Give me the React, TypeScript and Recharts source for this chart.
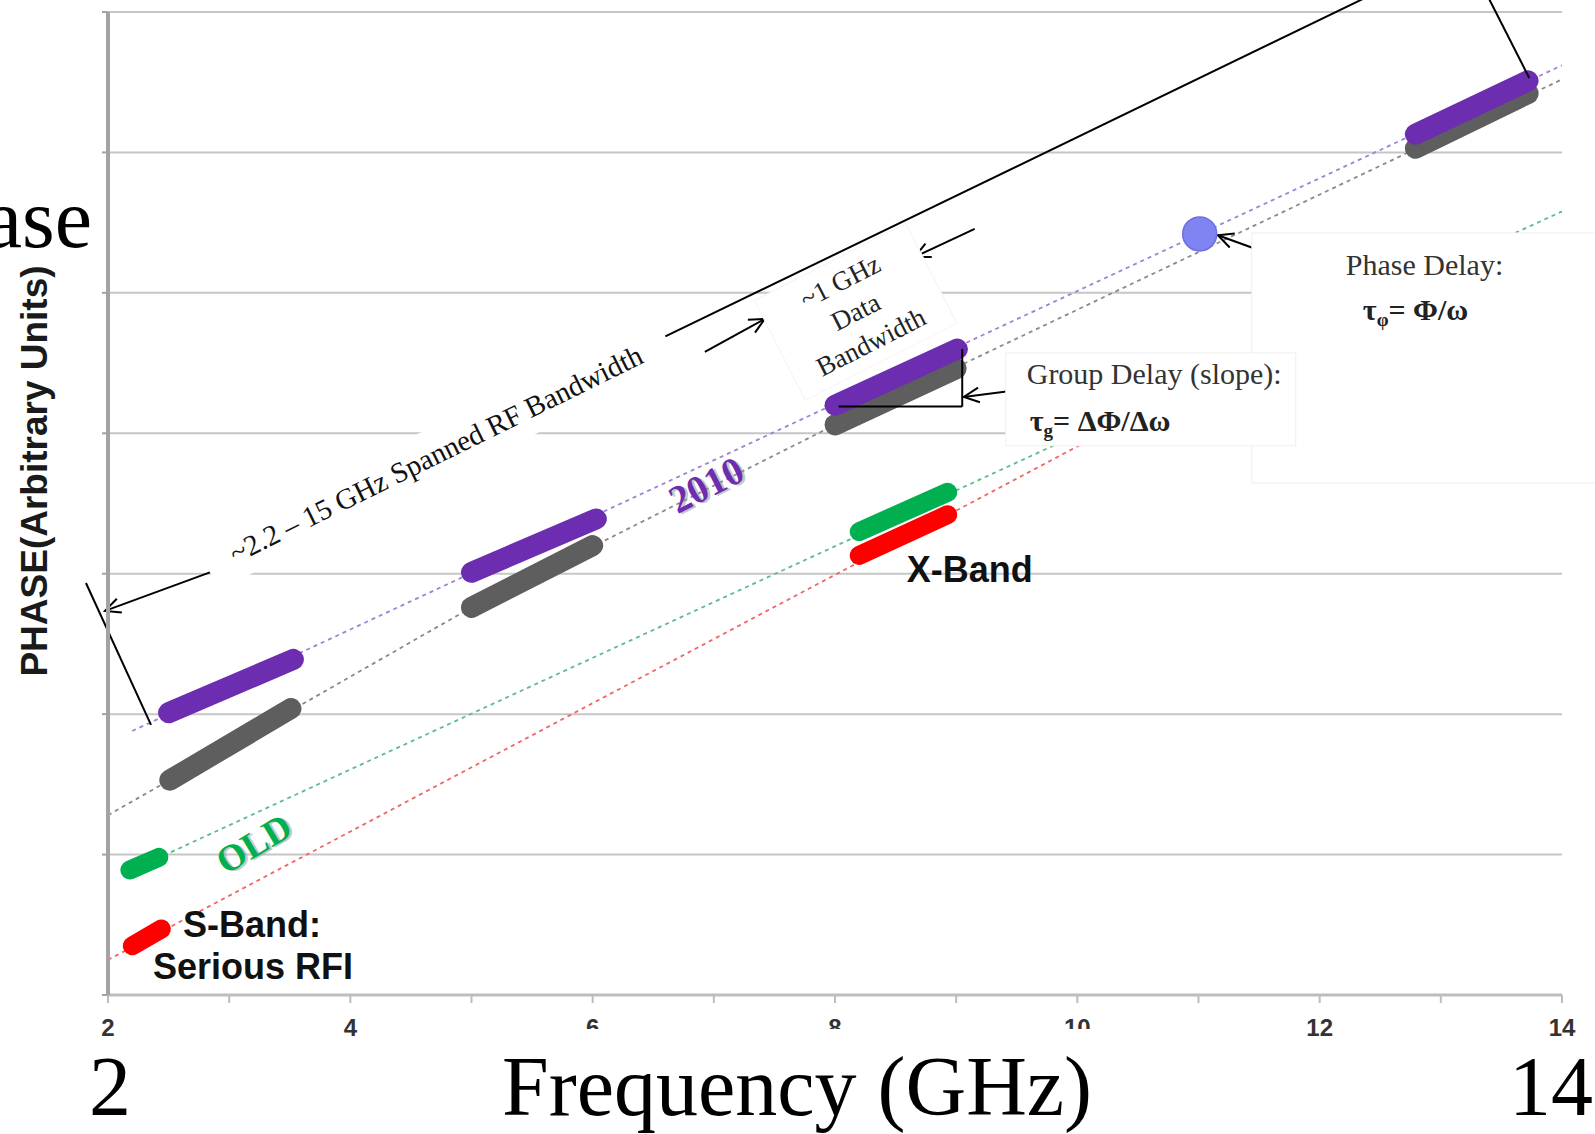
import React from "react";
import {
  CartesianGrid,
  ComposedChart,
  Line,
  ReferenceDot,
  ReferenceLine,
  XAxis,
  YAxis
} from "recharts";

// Phase vs frequency sketch: band segments sitting on dotted phase "trend" lines,
// with the slide's annotations (bandwidth brackets, group / phase delay notes).

const W = 1595;
const H = 1134;
const MARGIN = { top: 12, right: 33, left: 48, bottom: 109 };

const SERIF = "'Liberation Serif', 'Times New Roman', serif";
const SANS = "'Liberation Sans', Arial, sans-serif";

// axes
const X_TICKS = [2, 3, 4, 5, 6, 7, 8, 9, 10, 11, 12, 13, 14];
const X_LABELED = [2, 4, 6, 8, 10, 12, 14];
const X_HIDDEN_UNDER_TITLE = [6, 8, 10];
const Y_TICKS = [0, 1, 2, 3, 4, 5, 6, 7];

// band segments: [start GHz, end GHz] and [start phase, end phase]
const PURPLE_F = [[2.5, 3.53], [5.0, 6.03], [8.0, 9.01], [12.79, 13.72]];
const PURPLE_P = [[2.01, 2.39], [3.01, 3.39], [4.2, 4.6], [6.13, 6.51]];
const GRAY_F = [[2.51, 3.51], [5.0, 6.0], [8.0, 9.0], [12.79, 13.72]];
const GRAY_P = [[1.53, 2.04], [2.76, 3.2], [4.06, 4.46], [6.03, 6.42]];
const GREEN_F = [[2.18, 2.42], [8.2, 8.93]];
const GREEN_P = [[0.89, 0.98], [3.3, 3.58]];
const RED_F = [[2.2, 2.44], [8.2, 8.93]];
const RED_P = [[0.35, 0.47], [3.13, 3.42]];

// dotted trend lines
const PURPLE_TREND_F = [2.2, 14.0];
const PURPLE_TREND_P = [1.88, 6.62];
const GRAY_TREND_F = [2.0, 5.0, 8.0, 11.0, 14.0];
const GRAY_TREND_P = [1.28, 2.76, 4.06, 5.29, 6.52];
const GREEN_TREND_F = [2.4, 14.0];
const GREEN_TREND_P = [0.97, 5.58];
const RED_TREND_F = [2.0, 12.0];
const RED_TREND_P = [0.25, 4.82];

// phase delay marker
const PHASE_POINT_F = 11.01;
const PHASE_POINT_P = 5.42;

const COLORS = {
  purple: "#6c2db0",
  gray: "#5e5e5e",
  green: "#00b050",
  red: "#ff0000",
  purpleDot: "#9c84d4",
  grayDot: "#8a8a8a",
  greenDot: "#5dbb8e",
  redDot: "#ee6666"
};

type Pt = { x: number; y: number };
const toPts = (f: number[], p: number[]): Pt[] => f.map((x, i) => ({ x, y: p[i] }));

// annotation strokes, in chart units [f1, p1, f2, p2, arrow at end]
const NOTE_LINES: [number, number, number, number, boolean][] = [
  [6.6, 4.69, 12.35, 7.09, false],
  [13.4, 7.09, 13.73, 6.53, false],
  [2.875, 3.02, 1.975, 2.735, true],
  [1.818, 2.934, 2.355, 1.923, false],
  [7.404, 4.972, 7.825, 4.373, false],
  [8.617, 5.278, 8.873, 4.808, false],
  [6.926, 4.58, 7.421, 4.815, true],
  [9.153, 5.456, 8.658, 5.256, true],
  [8.03, 4.19, 9.05, 4.19, false],
  [9.05, 4.19, 9.05, 4.6, false],
  [9.583, 4.316, 9.063, 4.259, true],
  [12.15, 5.1, 11.16, 5.41, true]
];

const PlainShape = (p: any) => (
  <line x1={p.x1} y1={p.y1} x2={p.x2} y2={p.y2} stroke="#000" strokeWidth={2} />
);

const ArrowShape = (p: any) => {
  const { x1, y1, x2, y2 } = p;
  const a = Math.atan2(y2 - y1, x2 - x1);
  const L = 17;
  const s = 0.45;
  const ax = x2 - L * Math.cos(a - s);
  const ay = y2 - L * Math.sin(a - s);
  const bx = x2 - L * Math.cos(a + s);
  const by = y2 - L * Math.sin(a + s);
  return (
    <g>
      <line x1={x1} y1={y1} x2={x2} y2={y2} stroke="#000" strokeWidth={2} />
      <polyline points={`${ax},${ay} ${x2},${y2} ${bx},${by}`} fill="none" stroke="#000" strokeWidth={2} />
    </g>
  );
};

// x tick labels; 6, 8 and 10 are half covered by the big slide title, as in the slide
const FreqTick = (p: any) => {
  const v = p.payload?.value;
  if (!X_LABELED.includes(v)) return <g />;
  return (
    <g>
      <text x={p.x} y={p.y + 17} textAnchor="middle" fontFamily={SANS} fontWeight="bold" fontSize={24} fill="#333">
        {String(v)}
      </text>
      {X_HIDDEN_UNDER_TITLE.includes(v) && <rect x={p.x - 25} y={p.y + 10} width={50} height={20} fill="#fff" />}
    </g>
  );
};

const BottomTitles = (props: any) => {
  const vb = props.viewBox || { x: 108, y: 995, width: 1454 };
  return (
    <g>
      <text x={vb.x + 2} y={vb.y + 120} textAnchor="middle" fontFamily={SERIF} fontSize={84} fill="#000">2</text>
      <text x={vb.x + 689} y={vb.y + 120} textAnchor="middle" fontFamily={SERIF} fontSize={84} fill="#000">
        Frequency (GHz)
      </text>
      <text x={W - 2} y={vb.y + 120} textAnchor="end" fontFamily={SERIF} fontSize={84} fill="#000">14</text>
    </g>
  );
};

const LeftTitles = (props: any) => {
  const vb = props.viewBox || { x: 48, y: 12, width: 60 };
  const ax = vb.x + vb.width;
  const lx = ax - 74;
  const ly = vb.y + 459;
  return (
    <g>
      <text x={ax - 16} y={vb.y + 235} textAnchor="end" fontFamily={SERIF} fontSize={84} fill="#000">Phase</text>
      <text
        x={lx}
        y={ly}
        transform={`rotate(-90, ${lx}, ${ly})`}
        textAnchor="middle"
        dominantBaseline="central"
        fontFamily={SANS}
        fontWeight="bold"
        fontSize={37}
        fill="#1a1a1a"
      >
        PHASE(Arbitrary Units)
      </text>
    </g>
  );
};

const SpanNote = (p: any) => (
  <g transform={`rotate(-26.2, ${p.cx}, ${p.cy})`}>
    <rect x={p.cx - 255} y={p.cy - 26} width={510} height={52} fill="#fff" />
    <text x={p.cx} y={p.cy} textAnchor="middle" dominantBaseline="central" fontFamily={SERIF} fontSize={29} fill="#111">
      ~2.2 – 15 GHz Spanned RF Bandwidth
    </text>
  </g>
);

const DataBwNote = (p: any) => (
  <g transform={`rotate(-27, ${p.cx}, ${p.cy})`}>
    <rect x={p.cx - 85} y={p.cy - 56} width={170} height={112} fill="#fff" stroke="#f4f4f4" />
    <g fontFamily={SERIF} fontSize={27} fill="#222" textAnchor="middle">
      <text x={p.cx} y={p.cy - 34 + 9}>~1 GHz</text>
      <text x={p.cx} y={p.cy + 9}>Data</text>
      <text x={p.cx} y={p.cy + 34 + 9}>Bandwidth</text>
    </g>
  </g>
);

const ShadowWord = (text: string, color: string, size: number, angle: number) => (p: any) => (
  <g transform={`rotate(${angle}, ${p.cx}, ${p.cy})`} fontFamily={SERIF} fontWeight="bold" fontSize={size} textAnchor="middle">
    <text x={p.cx + 2} y={p.cy + 14} fill="#9a9a9a" opacity={0.55}>{text}</text>
    <text x={p.cx} y={p.cy + 12} fill={color}>{text}</text>
  </g>
);

const SBandNote = (p: any) => (
  <g fontFamily={SANS} fontWeight="bold" fontSize={36} fill="#111">
    <text x={p.cx} y={p.cy}>S-Band:</text>
    <text x={p.cx - 30} y={p.cy + 42}>Serious RFI</text>
  </g>
);

const XBandNote = (p: any) => (
  <text x={p.cx} y={p.cy} fontFamily={SANS} fontWeight="bold" fontSize={36} fill="#111">X-Band</text>
);

const GroupDelayNote = (p: any) => (
  <g>
    <rect x={p.cx} y={p.cy} width={290} height={93} fill="#fff" stroke="#f0f0f0" />
    <text x={p.cx + 21} y={p.cy + 31} fontFamily={SERIF} fontSize={30} fill="#333">Group Delay (slope):</text>
    <text x={p.cx + 24} y={p.cy + 78} fontFamily={SERIF} fontWeight="bold" fontSize={30} fill="#222">
      τ<tspan fontSize={19} dy={6}>g</tspan>
      <tspan dy={-6}>= ΔΦ/Δω</tspan>
    </text>
  </g>
);

const PhaseDelayNote = (p: any) => (
  <g>
    <rect x={p.cx} y={p.cy} width={380} height={250} fill="#fff" stroke="#eeeeee" />
    <text x={p.cx + 94} y={p.cy + 42} fontFamily={SERIF} fontSize={30} fill="#333">Phase Delay:</text>
    <text x={p.cx + 111} y={p.cy + 87} fontFamily={SERIF} fontWeight="bold" fontSize={30} fill="#222">
      τ<tspan fontSize={19} dy={6}>φ</tspan>
      <tspan dy={-6}>= Φ/ω</tspan>
    </text>
  </g>
);

function bandLines(fs: number[][], ps: number[][], color: string, width: number, key: string) {
  return fs.map((f, i) => (
    <Line
      key={`${key}-${i}`}
      data={toPts(f, ps[i])}
      dataKey="y"
      type="linear"
      stroke={color}
      strokeWidth={width}
      strokeLinecap="round"
      dot={false}
      activeDot={false}
      isAnimationActive={false}
    />
  ));
}

function trendLine(f: number[], p: number[], color: string, key: string) {
  return (
    <Line
      key={key}
      data={toPts(f, p)}
      dataKey="y"
      type="linear"
      stroke={color}
      strokeWidth={1.8}
      strokeDasharray="4 4"
      dot={false}
      activeDot={false}
      isAnimationActive={false}
    />
  );
}

export default function App() {
  return (
    <div style={{ position: "absolute", left: 0, top: 0, width: W, height: H, background: "#fff", overflow: "hidden" }}>
      <ComposedChart width={W} height={H} margin={MARGIN}>
        <CartesianGrid vertical={false} stroke="#c6c6c6" strokeWidth={2} />
        <XAxis
          type="number"
          dataKey="x"
          domain={[2, 14]}
          ticks={X_TICKS}
          allowDataOverflow
          tick={FreqTick}
          tickSize={8}
          tickMargin={16}
          stroke="#bdbdbd"
          strokeWidth={3}
          tickLine={{ stroke: "#bdbdbd", strokeWidth: 2 }}
          height={30}
          label={{ content: BottomTitles }}
        />
        <YAxis
          type="number"
          domain={[0, 7]}
          ticks={Y_TICKS}
          allowDataOverflow
          width={60}
          tickFormatter={() => ""}
          tickSize={6}
          stroke="#a3a3a3"
          strokeWidth={4}
          tickLine={{ stroke: "#a3a3a3", strokeWidth: 2 }}
          label={{ content: LeftTitles }}
        />

        {trendLine(PURPLE_TREND_F, PURPLE_TREND_P, COLORS.purpleDot, "t-purple")}
        {trendLine(GRAY_TREND_F, GRAY_TREND_P, COLORS.grayDot, "t-gray")}
        {trendLine(GREEN_TREND_F, GREEN_TREND_P, COLORS.greenDot, "t-green")}
        {trendLine(RED_TREND_F, RED_TREND_P, COLORS.redDot, "t-red")}

        {bandLines(GRAY_F, GRAY_P, COLORS.gray, 21, "gray")}
        {bandLines(PURPLE_F, PURPLE_P, COLORS.purple, 21, "purple")}
        {bandLines(GREEN_F, GREEN_P, COLORS.green, 19, "green")}
        {bandLines(RED_F, RED_P, COLORS.red, 19, "red")}

        <ReferenceDot x={PHASE_POINT_F} y={PHASE_POINT_P} r={17} fill="#7f84f2" stroke="#6d70de" strokeWidth={1.5} ifOverflow="visible" />

        <ReferenceDot x={4.706} y={3.853} ifOverflow="visible" shape={SpanNote} />
        <ReferenceDot x={8.17} y={4.865} ifOverflow="visible" shape={DataBwNote} />
        <ReferenceDot x={11.44} y={5.427} ifOverflow="visible" shape={PhaseDelayNote} />
        <ReferenceDot x={9.409} y={4.573} ifOverflow="visible" shape={GroupDelayNote} />

        {NOTE_LINES.map(([f1, p1, f2, p2, arrow], i) => (
          <ReferenceLine
            key={`note-${i}`}
            segment={[{ x: f1, y: p1 }, { x: f2, y: p2 }]}
            ifOverflow="visible"
            shape={arrow ? ArrowShape : PlainShape}
          />
        ))}

        <ReferenceDot x={6.942} y={3.625} ifOverflow="visible" shape={ShadowWord("2010", COLORS.purple, 39, -27)} />
        <ReferenceDot x={3.205} y={1.075} ifOverflow="visible" shape={ShadowWord("OLD", COLORS.green, 37, -31)} />
        <ReferenceDot x={2.619} y={0.413} ifOverflow="visible" shape={SBandNote} />
        <ReferenceDot x={8.592} y={2.942} ifOverflow="visible" shape={XBandNote} />
      </ComposedChart>
    </div>
  );
}
